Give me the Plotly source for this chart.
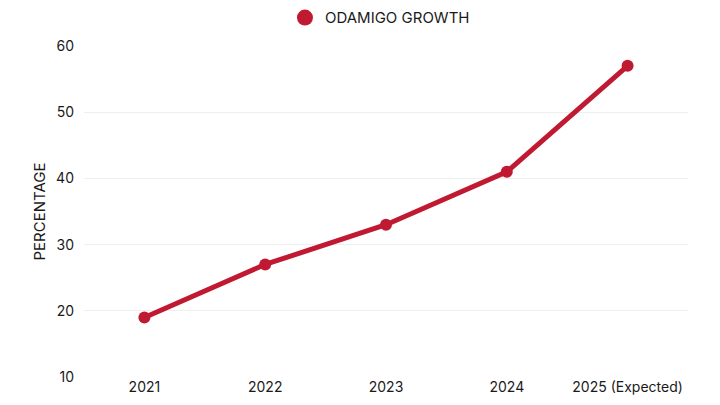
# Import Modules
import plotly.graph_objs as go

# Data
years = ['2021', '2022', '2023', '2024', '2025 (Expected)']
growth = [19, 27, 33, 41, 57]
series_name = 'ODAMIGO GROWTH'

# Create traces
trace = go.Scatter(x = years,
                   y = growth,
                   mode = 'lines+markers',
                   name = series_name,
                   showlegend = False,
                   line = dict(color = '#c01a33', width = 5),
                   marker = dict(color = '#c01a33', size = 12))

# legend entry shows only a dot
legend_dot = go.Scatter(x = [None], y = [None],
                        mode = 'markers',
                        name = series_name,
                        marker = dict(color = '#c01a33', size = 16))

# Create layout
# (page body adds 8px around the figure, margins compensate for it)
layout = go.Layout(margin = dict(l = 76, r = 24, t = 38, b = 20, autoexpand = False),
                   paper_bgcolor = 'white',
                   plot_bgcolor = 'white',
                   font = dict(family = 'Inter', size = 14, color = '#1a1a1a'),
                   showlegend = True,
                   legend = dict(orientation = 'h', x = 0.49, xanchor = 'center',
                                 y = 1.085, yanchor = 'middle',
                                 itemsizing = 'trace',
                                 font = dict(size = 15)),
                   xaxis = dict(type = 'category', range = [-0.5, 4.5],
                                showgrid = False, showline = False,
                                ticks = '', ticklen = 0, ticklabelstandoff = 0,
                                automargin = False),
                   yaxis = dict(title = dict(text = 'PERCENTAGE', font = dict(size = 15), standoff = 6),
                                range = [10, 60], dtick = 10,
                                showgrid = True, gridcolor = '#eeeeee',
                                zeroline = False, showline = False,
                                ticks = '', ticklabelstandoff = 9,
                                automargin = False))

# Create plot
fig = go.Figure(data=[trace, legend_dot], layout=layout)
fig.write_html("out.html")
